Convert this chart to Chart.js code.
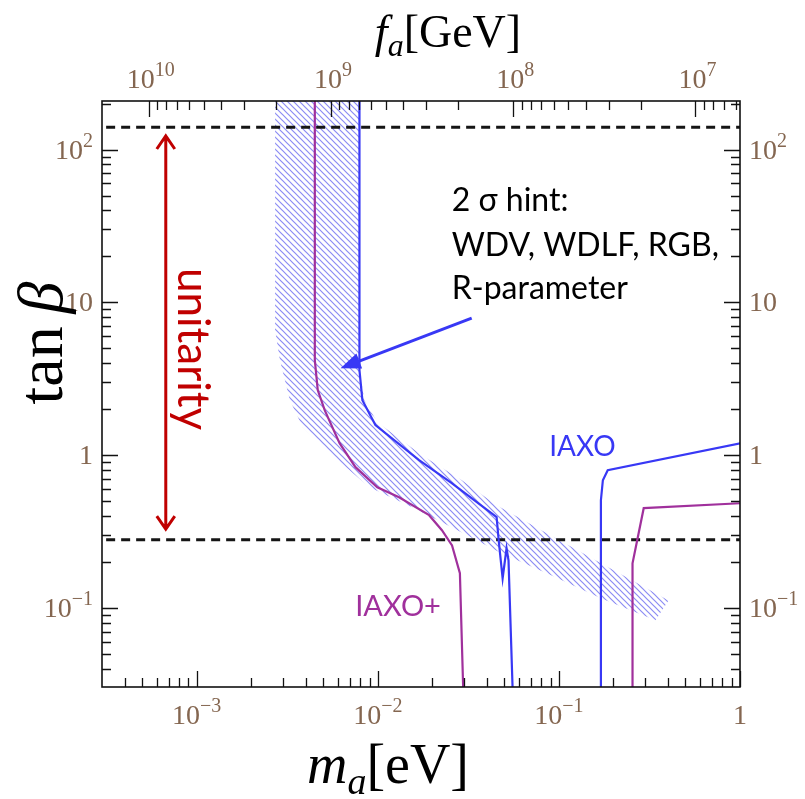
<!DOCTYPE html>
<html>
<head>
<meta charset="utf-8">
<script src="https://cdn.jsdelivr.net/npm/chart.js@4.4.1/dist/chart.umd.min.js"></script>
<style>
html,body{margin:0;padding:0;background:#fff;}
#wrap{width:805px;height:799px;}
</style>
</head>
<body>
<div id="wrap"><canvas id="c" width="805" height="799"></canvas></div>
<script>
// ---------- data (m_a in eV, tan beta) ----------
const iaxoLeftMass  = [7.92e-3, 7.92e-3, 8.22e-3, 9.70e-3, 1.69e-2, 2.56e-2, 4.53e-2, 4.65e-2, 4.89e-2, 5.14e-2, 5.27e-2, 5.61e-2];
const iaxoLeftTan   = [300, 3.60, 2.29, 1.573, 0.927, 0.656, 0.393, 0.2776, 0.1565, 0.246, 0.205, 0.02];
const iaxoRightMass = [0.1706, 0.1706, 0.1749, 0.186, 1.01];
const iaxoRightTan  = [0.02, 0.507, 0.686, 0.798, 1.198];
const iaxoPlusLeftMass  = [4.49e-3, 4.49e-3, 4.66e-3, 5.09e-3, 6.15e-3, 7.53e-3, 9.94e-3, 1.31e-2, 1.92e-2, 2.26e-2, 2.57e-2, 2.84e-2, 2.99e-2];
const iaxoPlusLeftTan   = [300, 4.19, 2.666, 1.97, 1.198, 0.835, 0.617, 0.531, 0.405, 0.323, 0.257, 0.169, 0.02];
const iaxoPlusRightMass = [0.255, 0.255, 0.294, 1.01];
const iaxoPlusRightTan  = [0.02, 0.196, 0.450, 0.485];
const hintUpperMass = [7.92e-3, 7.92e-3, 8.43e-3, 9.94e-3, 1.75e-2, 2.91e-2, 4.53e-2, 7.99e-2, 0.1706, 0.403];
const hintUpperTan  = [300, 3.60, 2.29, 1.645, 1.0, 0.686, 0.471, 0.323, 0.196, 0.112];
const hintLowerMass = [2.71e-3, 2.71e-3, 2.88e-3, 3.27e-3, 3.85e-3, 5.42e-3, 8.99e-3, 1.55e-2, 2.56e-2, 4.82e-2, 9.07e-2, 0.1706, 0.3415];
const hintLowerTan  = [300, 6.59, 4.19, 2.29, 1.525, 1.03, 0.617, 0.456, 0.338, 0.228, 0.164, 0.1158, 0.0831];
const unitarityBounds = [0.28, 140];
const massRange = [Math.pow(10, -3.5), 1];
const tanRange  = [0.0304, 208];
const faPerMass = 5.7e6;            // f_a[GeV] = 5.7e6 / m_a[eV]
// tick labels: [value, base, exponent]
const massLabels = [[1e-3, '10', '\u22123'], [1e-2, '10', '\u22122'], [1e-1, '10', '\u22121'], [1, '1', '']];
const tanLabels  = [[0.1, '10', '\u22121'], [1, '1', ''], [10, '10', ''], [100, '10', '2']];
const faLabels   = [[1e7, '10', '7'], [1e8, '10', '8'], [1e9, '10', '9'], [1e10, '10', '10']];

// ---------- helpers ----------
const pts = (xs, ys) => xs.map((x, i) => ({x: x, y: ys[i]}));
function decadeTicks(min, max) {
  const out = [];
  for (let e = Math.floor(Math.log10(min)); e <= Math.ceil(Math.log10(max)); e++) {
    for (let k = 1; k <= 9; k++) {
      const v = k * Math.pow(10, e);
      if (v >= min * 0.999999 && v <= max * 1.000001) out.push(v);
    }
  }
  return out;
}
const faRange = [faPerMass / massRange[1], faPerMass / massRange[0]];

const canvas = document.getElementById('c');
const mainCtx = canvas.getContext('2d');
const hatch = (() => {
  const s = 6;
  const c = document.createElement('canvas');
  c.width = s; c.height = s;
  const g = c.getContext('2d');
  g.strokeStyle = 'rgba(110,110,240,0.8)';
  g.lineWidth = 1.2;
  g.beginPath();
  g.moveTo(-1, -1); g.lineTo(s + 1, s + 1);
  g.moveTo(-1, s - 1); g.lineTo(1, s + 1);
  g.moveTo(s - 1, -1); g.lineTo(s + 1, 1);
  g.stroke();
  return mainCtx.createPattern(c, 'repeat');
})();

const BLUE = '#3838f5';
const MAGENTA = '#a0309c';
const RED = '#c00000';
const TICKCOL = '#846650';
const SERIF = "'Liberation Serif', 'DejaVu Serif', serif";
const SANS = "Lato, 'Open Sans', sans-serif";

function line(data, color, width, extra) {
  return Object.assign({data: data, borderColor: color, borderWidth: width, pointRadius: 0,
    fill: false, tension: 0, order: 1}, extra || {});
}

const bandPolygon = pts(hintUpperMass, hintUpperTan).concat(pts(hintLowerMass, hintLowerTan).reverse());

const datasets = [
  line(pts(iaxoLeftMass, iaxoLeftTan), BLUE, 2.2),
  line(pts(iaxoRightMass, iaxoRightTan), BLUE, 2.2),
  line(pts(iaxoPlusLeftMass, iaxoPlusLeftTan), MAGENTA, 2.2),
  line(pts(iaxoPlusRightMass, iaxoPlusRightTan), MAGENTA, 2.2),
  line([{x: massRange[0], y: unitarityBounds[1]}, {x: massRange[1], y: unitarityBounds[1]}], '#151515', 3, {borderDash: [9, 6]}),
  line([{x: massRange[0], y: unitarityBounds[0]}, {x: massRange[1], y: unitarityBounds[0]}], '#151515', 3, {borderDash: [9, 6]}),
  line(bandPolygon, 'rgba(0,0,0,0)', 0, {fill: 'shape', backgroundColor: hatch, order: 10})
];

// ---------- annotations (positions in data coordinates) ----------
const notes = {
  hint: {x: 2.56e-2, lines: [[39.6, '2 \u03C3 hint:'], [20.1, 'WDV, WDLF, RGB,'], [10.5, 'R-parameter']]},
  iaxo: {x: 8.84e-2, y: 0.99, text: 'IAXO'},
  iaxoPlus: {x: 7.5e-3, y: 0.088, text: 'IAXO+'},
  unitarity: {x: 7.9e-4, y: 4.95, text: 'unitarity'},
  unitarityArrow: {x: 6.75e-4, from: 0.323, to: 124.6},
  hintArrow: {from: [3.3e-2, 7.89], to: [6.23e-3, 3.71]}
};

function runs(ctx, parts, x, y, align) {
  let w = 0;
  for (const p of parts) { ctx.font = p.f; p.w = ctx.measureText(p.t).width; w += p.w; }
  let cx = align === 'left' ? x : (align === 'right' ? x - w : x - w / 2);
  for (const p of parts) { ctx.font = p.f; ctx.fillText(p.t, cx, y + (p.dy || 0)); cx += p.w; }
}
function tickLabel(ctx, base, exp, x, y, align) {
  const parts = [{t: base, f: '28px ' + SERIF}];
  if (exp) parts.push({t: exp, f: '20px ' + SERIF, dy: -12});
  runs(ctx, parts, x, y, align);
}

const decor = {
  id: 'decor',
  afterDatasetsDraw(chart) {
    const {ctx, chartArea: a, scales} = chart;
    const X = v => scales.x.getPixelForValue(v);
    const Y = v => scales.y.getPixelForValue(v);
    const tl = v => { const l = Math.log10(v); return Math.abs(l - Math.round(l)) < 1e-6 ? 16 : 9; };
    ctx.save();
    // inward tick marks
    ctx.strokeStyle = '#111'; ctx.lineWidth = 1.3;
    ctx.beginPath();
    for (const t of scales.x.ticks) { const p = Math.round(X(t.value)) + 0.5; ctx.moveTo(p, a.bottom); ctx.lineTo(p, a.bottom - tl(t.value)); }
    for (const t of scales.x2.ticks) { const p = Math.round(scales.x2.getPixelForValue(t.value)) + 0.5; ctx.moveTo(p, a.top); ctx.lineTo(p, a.top + tl(t.value)); }
    for (const t of scales.y.ticks) { const p = Math.round(Y(t.value)) + 0.5; ctx.moveTo(a.left, p); ctx.lineTo(a.left + tl(t.value), p); }
    for (const t of scales.y2.ticks) { const p = Math.round(scales.y2.getPixelForValue(t.value)) + 0.5; ctx.moveTo(a.right, p); ctx.lineTo(a.right - tl(t.value), p); }
    ctx.stroke();
    // frame
    ctx.lineWidth = 1.6;
    ctx.strokeRect(a.left, a.top, a.right - a.left, a.bottom - a.top);

    // tick labels
    ctx.fillStyle = TICKCOL; ctx.textAlign = 'left'; ctx.textBaseline = 'alphabetic';
    for (const [v, b, e] of massLabels) tickLabel(ctx, b, e, X(v), a.bottom + 37, 'center');
    for (const [v, b, e] of faLabels) tickLabel(ctx, b, e, scales.x2.getPixelForValue(v) + 2, a.top - 13, 'center');
    for (const [v, b, e] of tanLabels) {
      tickLabel(ctx, b, e, a.left - 9, Y(v) + 9, 'right');
      tickLabel(ctx, b, e, a.right + 9, scales.y2.getPixelForValue(v) + 9, 'left');
    }

    // unitarity double arrow
    const ux = X(notes.unitarityArrow.x);
    const uy1 = Y(notes.unitarityArrow.to), uy2 = Y(notes.unitarityArrow.from);
    ctx.strokeStyle = RED; ctx.lineWidth = 3; ctx.lineJoin = 'miter'; ctx.lineCap = 'butt';
    ctx.beginPath();
    ctx.moveTo(ux, uy1 + 1); ctx.lineTo(ux, uy2 - 1);
    ctx.moveTo(ux - 9, uy1 + 14); ctx.lineTo(ux, uy1 + 1); ctx.lineTo(ux + 9, uy1 + 14);
    ctx.moveTo(ux - 9, uy2 - 14); ctx.lineTo(ux, uy2 - 1); ctx.lineTo(ux + 9, uy2 - 14);
    ctx.stroke();

    // hint arrow
    const ax1 = X(notes.hintArrow.from[0]), ay1 = Y(notes.hintArrow.from[1]);
    const ax2 = X(notes.hintArrow.to[0]), ay2 = Y(notes.hintArrow.to[1]);
    const ang = Math.atan2(ay2 - ay1, ax2 - ax1);
    const hl = 20, hw = 8;
    const bx = ax2 - hl * Math.cos(ang), by = ay2 - hl * Math.sin(ang);
    ctx.strokeStyle = BLUE; ctx.fillStyle = BLUE; ctx.lineWidth = 3;
    ctx.beginPath(); ctx.moveTo(ax1, ay1); ctx.lineTo(bx, by); ctx.stroke();
    ctx.beginPath();
    ctx.moveTo(ax2, ay2);
    ctx.lineTo(bx + hw * Math.sin(ang), by - hw * Math.cos(ang));
    ctx.lineTo(bx - hw * Math.sin(ang), by + hw * Math.cos(ang));
    ctx.closePath(); ctx.fill();

    // texts
    ctx.textAlign = 'left'; ctx.textBaseline = 'alphabetic';
    ctx.fillStyle = '#000'; ctx.font = '32px ' + SANS;
    for (const [ty, s] of notes.hint.lines) ctx.fillText(s, X(notes.hint.x), Y(ty));
    ctx.fillStyle = BLUE; ctx.font = '28px ' + SANS;
    ctx.fillText(notes.iaxo.text, X(notes.iaxo.x), Y(notes.iaxo.y));
    ctx.fillStyle = MAGENTA; ctx.font = '29px ' + SANS;
    ctx.fillText(notes.iaxoPlus.text, X(notes.iaxoPlus.x), Y(notes.iaxoPlus.y));
    ctx.save();
    ctx.translate(X(notes.unitarity.x), Y(notes.unitarity.y));
    ctx.rotate(Math.PI / 2);
    ctx.fillStyle = RED; ctx.textAlign = 'center'; ctx.font = '44px ' + SANS;
    ctx.fillText(notes.unitarity.text, 0, 0);
    ctx.restore();

    // axis titles
    ctx.fillStyle = '#000'; ctx.textAlign = 'left';
    const cx = (a.left + a.right) / 2;
    runs(ctx, [{t: 'f', f: 'italic 46px ' + SERIF}, {t: 'a', f: 'italic 32px ' + SERIF, dy: 9}, {t: '[GeV]', f: '46px ' + SERIF}], cx + 27, 47);
    runs(ctx, [{t: 'm', f: 'italic 56px ' + SERIF}, {t: 'a', f: 'italic 38px ' + SERIF, dy: 11}, {t: '[eV]', f: '56px ' + SERIF}], cx - 33, 783);
    ctx.save();
    ctx.translate(62, 343);
    ctx.rotate(-Math.PI / 2);
    runs(ctx, [{t: 'tan\u2009', f: '64px ' + SERIF}, {t: '\u03B2', f: 'italic 64px ' + SERIF}], 0, 0);
    ctx.restore();
    ctx.restore();
  }
};

function logAxis(pos, range, tickVals, size, extra) {
  return Object.assign({
    type: 'logarithmic', position: pos, min: range[0], max: range[1],
    grid: {display: false, drawTicks: false}, border: {display: false},
    ticks: {display: false, autoSkip: false},
    afterBuildTicks: s => { s.ticks = tickVals.map(v => ({value: v})); },
    afterFit: s => { if (pos === 'top' || pos === 'bottom') s.height = size; else s.width = size; }
  }, extra || {});
}

new Chart(canvas, {
  type: 'line',
  data: {datasets: datasets},
  options: {
    responsive: false, animation: false, devicePixelRatio: 1,
    layout: {padding: 0},
    plugins: {legend: {display: false}, title: {display: false}, tooltip: {enabled: false}},
    scales: {
      x: logAxis('bottom', massRange, decadeTicks(massRange[0], massRange[1]), 112),
      x2: logAxis('top', faRange, decadeTicks(faRange[0], faRange[1]), 101, {reverse: true}),
      y: logAxis('left', tanRange, decadeTicks(tanRange[0], tanRange[1]), 102),
      y2: logAxis('right', tanRange, decadeTicks(tanRange[0], tanRange[1]), 65)
    }
  },
  plugins: [decor]
});
</script>
</body>
</html>
